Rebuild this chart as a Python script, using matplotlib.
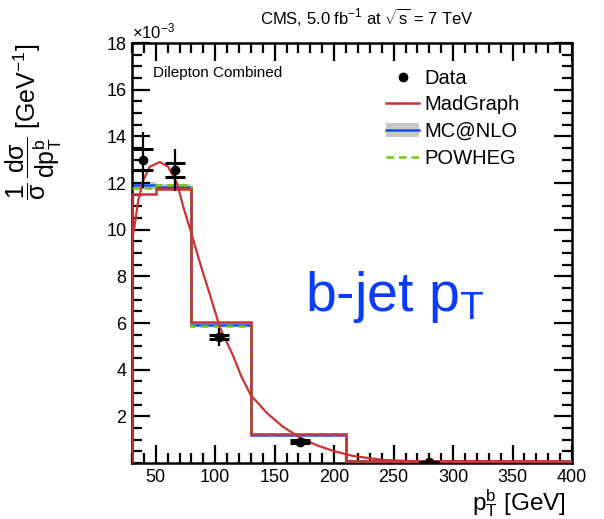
import matplotlib
matplotlib.use("Agg")
import matplotlib.pyplot as plt
from matplotlib.lines import Line2D
from matplotlib.patches import Patch
from matplotlib.ticker import MultipleLocator
import numpy as np

plt.rcParams['font.family'] = ['Liberation Sans', 'DejaVu Sans']
plt.rcParams['mathtext.fontset'] = 'custom'
plt.rcParams['mathtext.rm'] = 'Liberation Sans'
plt.rcParams['mathtext.it'] = 'Liberation Sans:italic'
plt.rcParams['mathtext.bf'] = 'Liberation Sans:bold'
plt.rcParams['mathtext.default'] = 'regular'

# Binning (GeV) and normalised cross sections (x 1e-3 GeV^-1)
bin_edges = [30, 50, 80, 130, 210, 400]
madgraph_hist = [11.55, 11.75, 6.05, 1.25, 0.08]
mcatnlo_hist = [11.9, 11.85, 5.9, 1.22, 0.08]
mcatnlo_unc = [0.15, 0.12, 0.08, 0.03, 0.01]
powheg_hist = [11.8, 11.9, 5.88, 1.23, 0.08]

# Data points
data_x = [39, 66, 103, 171, 280]
data_y = [13.0, 12.55, 5.4, 0.92, 0.05]
data_err_tot = [1.2, 0.9, 0.4, 0.12, 0.03]
data_err_stat = [0.45, 0.3, 0.1, 0.05, 0.01]

# MadGraph continuous curve
curve_x = [30, 31.7, 35.1, 39.3, 45, 53.5, 60.3, 67.8, 73, 79, 87, 95.6, 104,
           115, 122, 130, 143.5, 157, 171, 185, 199, 216, 241, 270, 310, 400]
curve_y = [9.6, 10.0, 11.2, 12.1, 12.7, 12.9, 12.7, 12.0, 11.0, 10.0, 8.6, 7.2,
           5.8, 4.6, 3.7, 2.9, 2.14, 1.55, 1.1, 0.77, 0.52, 0.3, 0.13, 0.07,
           0.05, 0.04]

RED = '#cc3333'
BLUE = '#1a4cff'
GREEN = '#66cc00'
GREY = '#c8c8c8'

fig = plt.figure(figsize=(6.04, 5.19), dpi=100)
ax = fig.add_axes([132/604, 1-463/519, 440/604, 420/519])

edges = np.array(bin_edges, dtype=float)
mc = np.array(mcatnlo_hist)
unc = np.array(mcatnlo_unc)
ax.stairs(mc + unc, edges, baseline=mc - unc, fill=True, color=GREY, lw=0, zorder=1)
ax.stairs(mc, edges, color=BLUE, lw=1.8, baseline=None, zorder=2)
ax.stairs(powheg_hist, edges, color=GREEN, lw=1.8, ls=(0, (3, 2)), baseline=None, zorder=3)
ax.stairs(madgraph_hist, edges, color=RED, lw=1.8, baseline=0, zorder=4)
ax.plot(curve_x, curve_y, color=RED, lw=1.6, zorder=4)

ax.errorbar(data_x, data_y, yerr=data_err_tot, fmt='o', color='black',
            ms=6, elinewidth=1.6, capsize=0, zorder=6)
ax.errorbar(data_x, data_y, yerr=data_err_stat, fmt='none', ecolor='black',
            elinewidth=0, capsize=7, capthick=2.2, zorder=6)

ax.set_xlim(30, 400)
ax.set_ylim(0, 18)
ax.xaxis.set_major_locator(MultipleLocator(50))
ax.xaxis.set_minor_locator(MultipleLocator(10))
ax.yaxis.set_minor_locator(MultipleLocator(0.5))
ax.set_yticks([2, 4, 6, 8, 10, 12, 14, 16, 18])
ax.tick_params(which='both', direction='in', top=True, right=True,
               width=1.6, labelsize=13, color='black')
ax.tick_params(which='major', length=13, pad=4)
ax.tick_params(which='minor', length=7)
for sp in ax.spines.values():
    sp.set_linewidth(1.8)

ax.text(0.0, 1.003, r'$\times10^{-3}$', transform=ax.transAxes,
        fontsize=12, ha='left', va='bottom')

ax.text(0.048, 0.929, 'Dilepton Combined', transform=ax.transAxes,
        fontsize=11, ha='left', va='center')

fig.text(0.785, 0.967, r'CMS, 5.0 fb$^{-1}$ at $\sqrt{s}$ = 7 TeV',
         fontsize=12, ha='right', va='center')

ax.set_xlabel(r'$p_{T}^{b}$ [GeV]', fontsize=17.5, loc='right')
ax.xaxis.set_label_coords(0.985, -0.058)
ax.xaxis.label.set_va('top')
ax.set_ylabel(r'$\dfrac{1}{\sigma}\,\dfrac{d\sigma}{dp_{T}^{b}}$ [GeV$^{-1}$]',
              fontsize=18, loc='top')
ax.yaxis.set_label_coords(-0.155, 1.0)

ax.text(0.393, 0.362, r'b-jet p$_{T}$', transform=ax.transAxes,
        fontsize=40, color='#0a3cff', ha='left', va='baseline')

handles = [
    Line2D([], [], marker='o', ls='none', color='black', ms=6),
    Line2D([], [], color=RED, lw=1.8),
    (Patch(facecolor=GREY, edgecolor='none'), Line2D([], [], color=BLUE, lw=1.8)),
    Line2D([], [], color=GREEN, lw=1.8, ls=(0, (3, 2))),
]
labels = ['Data', 'MadGraph', 'MC@NLO', 'POWHEG']
ax.legend(handles, labels, loc='upper left', bbox_to_anchor=(0.56, 0.958),
          frameon=False, fontsize=14.5, handlelength=1.6, handletextpad=0.3,
          labelspacing=0.38, borderaxespad=0)

fig.savefig('out.png', dpi=100)
